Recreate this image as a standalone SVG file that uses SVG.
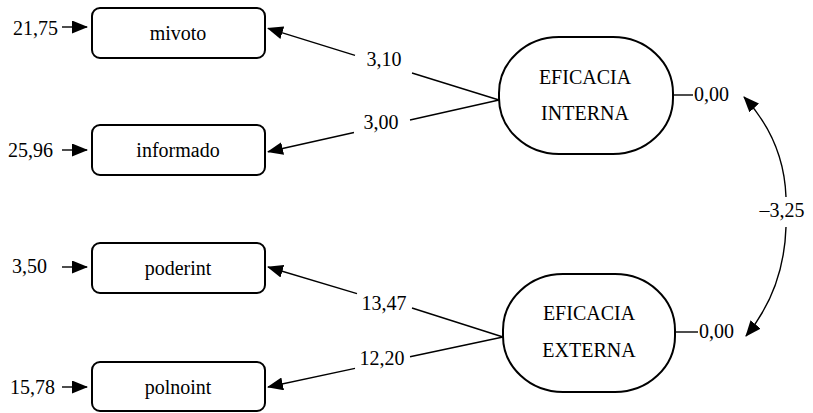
<svg xmlns="http://www.w3.org/2000/svg" width="813" height="413" viewBox="0 0 813 413">
<style>
text{font-family:"Liberation Serif","DejaVu Serif",serif;font-size:20px;fill:#000}
.c{text-anchor:middle}
.box{fill:#fff;stroke:#000;stroke-width:2}
.lat{fill:#fff;stroke:#000;stroke-width:2}
.ln{fill:none;stroke:#000;stroke-width:1.4}
</style>
<defs>
<marker id="ah" viewBox="0 0 16 13" refX="15" refY="6.5" markerWidth="16" markerHeight="13" markerUnits="userSpaceOnUse" orient="auto">
<path d="M0,0 L16,6.5 L0,13 z" fill="#000"/>
</marker>
</defs>
<g id="connectors">
<line class="ln" x1="62" y1="27" x2="87" y2="27" marker-end="url(#ah)"/>
<line class="ln" x1="62" y1="150" x2="87" y2="150" marker-end="url(#ah)"/>
<line class="ln" x1="62" y1="267" x2="87" y2="267" marker-end="url(#ah)"/>
<line class="ln" x1="62" y1="387" x2="87" y2="387" marker-end="url(#ah)"/>
<line class="ln" x1="355" y1="55.3" x2="268" y2="28.3" marker-end="url(#ah)"/>
<line class="ln" x1="412" y1="73" x2="499" y2="100"/>
<line class="ln" x1="354" y1="132.5" x2="268" y2="151.8" marker-end="url(#ah)"/>
<line class="ln" x1="410" y1="120" x2="499" y2="100"/>
<line class="ln" x1="357" y1="293.6" x2="268" y2="267" marker-end="url(#ah)"/>
<line class="ln" x1="412" y1="308" x2="503" y2="337"/>
<line class="ln" x1="355" y1="368.4" x2="268" y2="387" marker-end="url(#ah)"/>
<line class="ln" x1="410" y1="356.7" x2="503" y2="337"/>
<line class="ln" x1="672" y1="95" x2="693" y2="95"/>
<line class="ln" x1="675" y1="332" x2="698" y2="332"/>
<path class="ln" d="M786,197 Q784,140 744,97" marker-end="url(#ah)"/>
<path class="ln" d="M786,227 Q784,290 746,336" marker-end="url(#ah)"/>
<text x="13" y="35">21,75</text>
<text x="8" y="157">25,96</text>
<text x="12" y="273">3,50</text>
<text x="10" y="394">15,78</text>
<text x="384" y="66" class="c">3,10</text>
<text x="381" y="129" class="c">3,00</text>
<text x="384" y="310" class="c">13,47</text>
<text x="382" y="365" class="c">12,20</text>
<text x="694" y="101">0,00</text>
<text x="699" y="338">0,00</text>
<text x="782" y="217" class="c">–3,25</text>
</g>
<g id="mivoto">
<rect class="box" x="92" y="8" width="173" height="50" rx="8"/>
<text x="178" y="40" class="c">mivoto</text>
</g>
<g id="informado">
<rect class="box" x="92" y="125" width="173" height="50" rx="8"/>
<text x="178" y="157" class="c">informado</text>
</g>
<g id="poderint">
<rect class="box" x="92" y="243" width="173" height="50" rx="8"/>
<text x="178" y="275" class="c">poderint</text>
</g>
<g id="polnoint">
<rect class="box" x="92" y="362" width="173" height="49" rx="8"/>
<text x="178" y="394" class="c">polnoint</text>
</g>
<g id="eficacia_interna">
<rect class="lat" x="499" y="37" width="174" height="117" rx="60" ry="56"/>
<text x="585" y="84" class="c">EFICACIA</text>
<text x="585" y="120" class="c">INTERNA</text>
</g>
<g id="eficacia_externa">
<rect class="lat" x="503" y="274" width="172" height="118" rx="60" ry="56"/>
<text x="589" y="320" class="c">EFICACIA</text>
<text x="589" y="357" class="c">EXTERNA</text>
</g>
</svg>
